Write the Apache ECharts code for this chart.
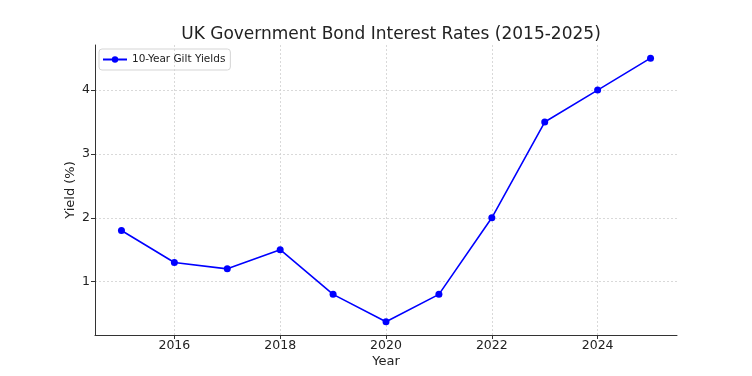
<!DOCTYPE html>
<html>
<head>
<meta charset="utf-8">
<script src="https://cdn.jsdelivr.net/npm/echarts@6/dist/echarts.min.js"></script>
<style>
html, body { margin: 0; padding: 0; background: #fff; }
#main { width: 752px; height: 376px; }
</style>
</head>
<body>
<div id="main"></div>
<script>
var years = [2015, 2016, 2017, 2018, 2019, 2020, 2021, 2022, 2023, 2024, 2025];
var yields = [1.8, 1.3, 1.2, 1.5, 0.8, 0.37, 0.8, 2.0, 3.5, 4.0, 4.5];
var xTicks = [2016, 2018, 2020, 2022, 2024];
var yTicks = [1, 2, 3, 4];

var myChart = echarts.init(document.getElementById('main'));
var font = 'DejaVu Sans';
var textColor = '#222';
var option = {
    animation: false,
    title: {
        text: 'UK Government Bond Interest Rates (2015-2025)',
        left: 386,
        textAlign: 'center',
        top: 21,
        textStyle: { fontFamily: font, fontSize: 17, fontWeight: 'normal', color: textColor }
    },
    legend: {
        left: 99,
        top: 49,
        itemWidth: 24,
        itemHeight: 8,
        itemGap: 6,
        padding: [5, 5, 5, 3],
        borderColor: '#d5d5d5',
        borderWidth: 1,
        borderRadius: 3,
        textStyle: { fontFamily: font, fontSize: 10.5, color: textColor }
    },
    grid: { left: 95, right: 75, top: 45, bottom: 41 },
    xAxis: {
        type: 'value',
        min: 2014.5,
        max: 2025.5,
        name: 'Year',
        nameLocation: 'middle',
        nameGap: 20,
        nameMoveOverlap: false,
        nameTextStyle: { fontFamily: font, fontSize: 13, color: textColor },
        axisLine: { lineStyle: { color: '#333', width: 1 } },
        axisTick: { customValues: xTicks, length: 4, lineStyle: { color: '#333' } },
        axisLabel: {
            customValues: xTicks, fontFamily: font, fontSize: 12.5, color: textColor, margin: 4,
            formatter: function (v) { return String(v); }
        },
        splitLine: { show: true, lineStyle: { color: '#d0d0d0', width: 0.8, type: [2, 2] } }
    },
    yAxis: {
        type: 'value',
        min: 0.1635,
        max: 4.7065,
        name: 'Yield (%)',
        nameLocation: 'middle',
        nameGap: 18,
        nameMoveOverlap: false,
        nameTextStyle: { fontFamily: font, fontSize: 13, color: textColor },
        axisLine: { show: true, lineStyle: { color: '#333', width: 1 } },
        axisTick: { show: true, customValues: yTicks, length: 4, lineStyle: { color: '#333' } },
        axisLabel: { customValues: yTicks, fontFamily: font, fontSize: 12.5, color: textColor, margin: 5 },
        splitLine: { show: true, lineStyle: { color: '#d0d0d0', width: 0.8, type: [2, 2] } }
    },
    series: [{
        name: '10-Year Gilt Yields',
        type: 'line',
        data: years.map(function (y, i) { return [y, yields[i]]; }),
        symbol: 'circle',
        symbolSize: 7,
        itemStyle: { color: '#0000ff' },
        lineStyle: { color: '#0000ff', width: 1.6 }
    }]
};
myChart.setOption(option);
</script>
</body>
</html>
